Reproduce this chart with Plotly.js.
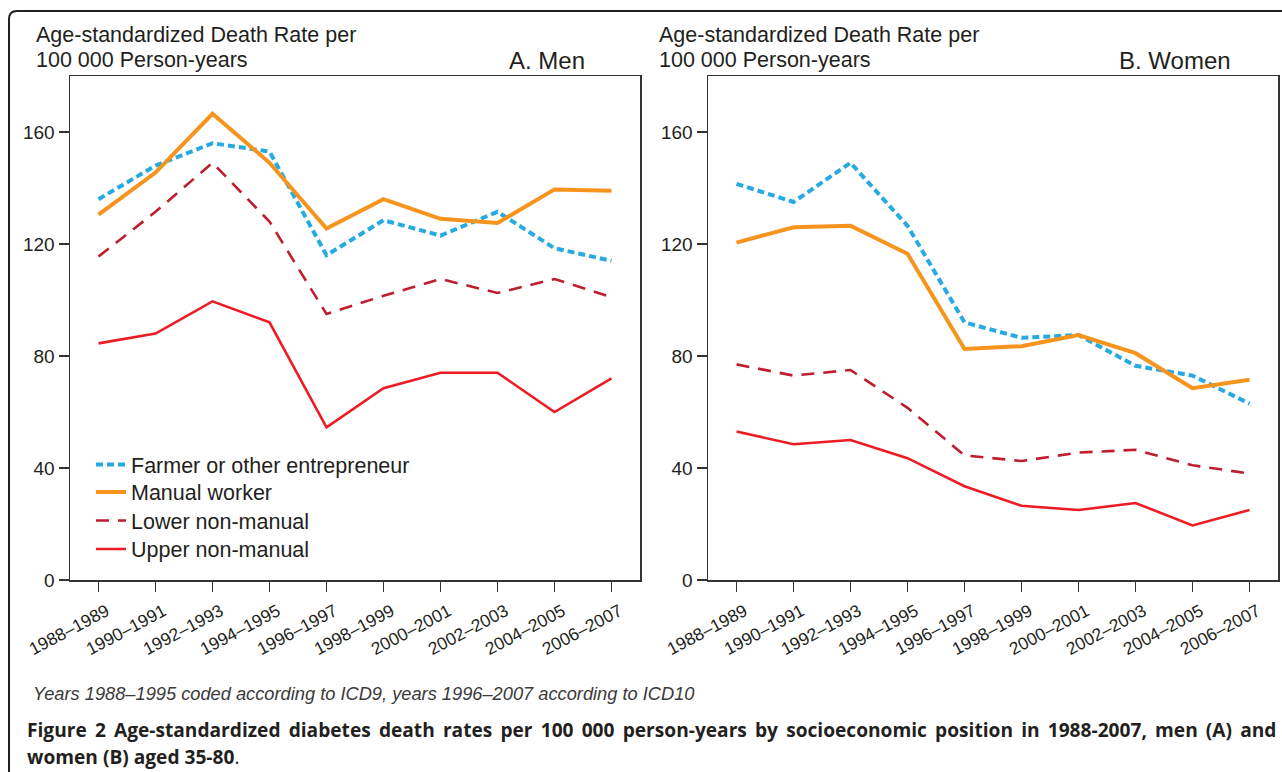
<!DOCTYPE html>
<html>
<head>
<meta charset="utf-8">
<script src="https://cdn.plot.ly/plotly-3.0.1.min.js"></script>
<style>
html, body { margin: 0; padding: 0; background: #fff; }
#chart { width: 1282px; height: 772px; }
</style>
</head>
<body>
<div id="chart"></div>
<script>
const categories = ['1988–1989', '1990–1991', '1992–1993', '1994–1995', '1996–1997',
                    '1998–1999', '2000–2001', '2002–2003', '2004–2005', '2006–2007'];
const seriesNames = ['Farmer or other entrepreneur', 'Manual worker', 'Lower non-manual', 'Upper non-manual'];

const menFarmer = [136, 148, 156, 153, 116, 128.5, 123, 131.5, 118.5, 114];
const menManual = [130.5, 145.5, 166.5, 149, 125.5, 136, 129, 127.5, 139.5, 139];
const menLower  = [115.5, 131.5, 149, 128, 95, 101.5, 107.5, 102.5, 107.5, 101];
const menUpper  = [84.5, 88, 99.5, 92, 54.5, 68.5, 74, 74, 60, 72];

const womenFarmer = [141.5, 135, 149, 126.5, 92, 86.5, 87.5, 76.5, 73, 63];
const womenManual = [120.5, 126, 126.5, 116.5, 82.5, 83.5, 87.5, 81, 68.5, 71.5];
const womenLower  = [77, 73, 75, 61.5, 44.5, 42.5, 45.5, 46.5, 41, 38];
const womenUpper  = [53, 48.5, 50, 43.5, 33.5, 26.5, 25, 27.5, 19.5, 25];

const yTicks = [0, 40, 80, 120, 160];

const captionLine1 = 'Figure 2 Age-standardized diabetes death rates per 100 000 person-years by socioeconomic position in 1988-2007, men (A) and';
const captionLine2 = 'women (B) aged 35-80';
const noteText = 'Years 1988–1995 coded according to ICD9, years 1996–2007 according to ICD10';

const styles = [
  {color: '#27AAE1', width: 4, dash: '7px,4px'},
  {color: '#F7941D', width: 4, dash: 'solid'},
  {color: '#BE1E2D', width: 2.6, dash: '13px,9px'},
  {color: '#ED1C24', width: 2.6, dash: 'solid'}
];

const menData = [menFarmer, menManual, menLower, menUpper];
const womenData = [womenFarmer, womenManual, womenLower, womenUpper];
const legendIds = ['legend', 'legend2', 'legend3', 'legend4'];

const traces = [];
menData.forEach((vals, i) => {
  traces.push({
    x: categories, y: vals, type: 'scatter', mode: 'lines', name: seriesNames[i],
    xaxis: 'x', yaxis: 'y', line: styles[i], showlegend: true, legend: legendIds[i]
  });
});
womenData.forEach((vals, i) => {
  traces.push({
    x: categories, y: vals, type: 'scatter', mode: 'lines', name: seriesNames[i],
    xaxis: 'x2', yaxis: 'y2', line: styles[i], showlegend: false
  });
});

const W = 1282, H = 772;
const px = v => v / W;
const py = v => 1 - v / H;

const FAM = 'Arial, Liberation Sans, Helvetica, sans-serif';
const CAP = 'Open Sans, Noto Sans, sans-serif';
const INK = '#231F20';
const titleFont = {family: FAM, size: 21.5, color: INK};
const yTickFont = {family: FAM, size: 19, color: INK};
const xTickFont = {family: FAM, size: 17.5, color: INK};
const panelFont = {family: FAM, size: 24, color: INK};

// widen word gaps to imitate the justified caption line
const justified = captionLine1.split(' ').join(' \u2009');

function xAxis(domain, anchor) {
  return {
    domain: domain, anchor: anchor, type: 'category', categoryarray: categories,
    range: [-0.5, 9.5], showline: true, mirror: true, linecolor: '#333', linewidth: 1.5,
    ticks: 'outside', ticklen: 10, tickwidth: 1.3, tickcolor: '#333',
    tickangle: -28, tickfont: xTickFont, ticklabelshift: 8, ticklabelstandoff: 3,
    showgrid: false, zeroline: false, fixedrange: true
  };
}
function yAxis(domain, anchor) {
  return {
    domain: domain, anchor: anchor, range: [0, 180], tickvals: yTicks,
    showline: true, mirror: true, linecolor: '#333', linewidth: 1.5,
    ticks: 'outside', ticklen: 10, tickwidth: 1.3, tickcolor: '#333',
    tickfont: yTickFont, showgrid: false, zeroline: false, fixedrange: true
  };
}

const yDom = [py(580), py(76)];
const legendCenters = [464.5, 492, 520.5, 549];

function legendAt(yc) {
  return {
    x: px(91), y: py(yc), xanchor: 'left', yanchor: 'middle',
    bgcolor: 'rgba(0,0,0,0)', borderwidth: 0,
    font: {family: FAM, size: 21.5, color: INK},
    itemwidth: 30
  };
}

const layout = {
  width: W, height: H,
  margin: {l: 0, r: 0, t: 0, b: 0},
  paper_bgcolor: '#fff', plot_bgcolor: '#fff',
  font: titleFont,
  xaxis: xAxis([px(70), px(640)], 'y'),
  yaxis: yAxis(yDom, 'x'),
  xaxis2: xAxis([px(708), px(1278)], 'y2'),
  yaxis2: yAxis(yDom, 'x2'),
  showlegend: true,
  legend: legendAt(legendCenters[0]),
  legend2: legendAt(legendCenters[1]),
  legend3: legendAt(legendCenters[2]),
  legend4: legendAt(legendCenters[3]),
  annotations: [
    {xref: 'paper', yref: 'paper', x: px(34), y: py(35.3), xanchor: 'left', yanchor: 'middle',
     showarrow: false, text: 'Age-standardized Death Rate per', font: titleFont},
    {xref: 'paper', yref: 'paper', x: px(34), y: py(60.3), xanchor: 'left', yanchor: 'middle',
     showarrow: false, text: '100 000 Person-years', font: titleFont},
    {xref: 'paper', yref: 'paper', x: px(657), y: py(35.3), xanchor: 'left', yanchor: 'middle',
     showarrow: false, text: 'Age-standardized Death Rate per', font: titleFont},
    {xref: 'paper', yref: 'paper', x: px(657), y: py(60.3), xanchor: 'left', yanchor: 'middle',
     showarrow: false, text: '100 000 Person-years', font: titleFont},
    {xref: 'paper', yref: 'paper', x: px(587), y: py(60), xanchor: 'right', yanchor: 'middle',
     showarrow: false, text: 'A. Men', font: panelFont},
    {xref: 'paper', yref: 'paper', x: px(1233), y: py(60), xanchor: 'right', yanchor: 'middle',
     showarrow: false, text: 'B. Women', font: panelFont},
    {xref: 'paper', yref: 'paper', x: px(31), y: py(693), xanchor: 'left', yanchor: 'middle',
     showarrow: false, text: '<i>' + noteText + '</i>',
     font: {family: FAM, size: 18.25, color: '#3a3a3a'}},
    {xref: 'paper', yref: 'paper', x: px(25), y: py(729.5), xanchor: 'left', yanchor: 'middle',
     showarrow: false, text: '<b>' + justified + '</b>',
     font: {family: CAP, size: 19.15, color: INK}},
    {xref: 'paper', yref: 'paper', x: px(25), y: py(756.8), xanchor: 'left', yanchor: 'middle',
     showarrow: false, text: '<b>' + captionLine2 + '</b>.',
     font: {family: CAP, size: 19.15, color: INK}}
  ],
  shapes: [
    {type: 'path', xref: 'paper', yref: 'paper',
     path: 'M 1.0 ' + py(11) + ' L ' + px(17) + ' ' + py(11) +
           ' Q ' + px(9) + ' ' + py(11) + ' ' + px(9) + ' ' + py(19) +
           ' L ' + px(9) + ' 0',
     line: {color: INK, width: 2}}
  ]
};

Plotly.newPlot('chart', traces, layout, {displayModeBar: false, staticPlot: true});
</script>
</body>
</html>
